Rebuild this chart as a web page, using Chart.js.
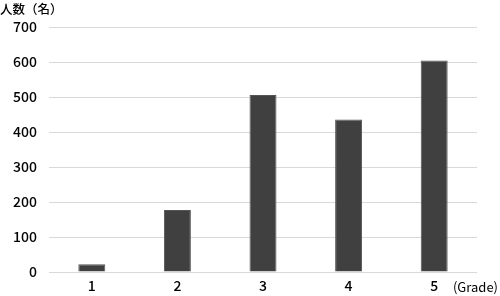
<!DOCTYPE html>
<html>
<head>
<meta charset="utf-8">
<script src="https://cdn.jsdelivr.net/npm/chart.js@4/dist/chart.umd.min.js"></script>
<style>
html,body{margin:0;padding:0;background:#fff;}
#wrap{width:500px;height:296px;position:relative;}
</style>
</head>
<body>
<div id="wrap"><canvas id="c" width="500" height="296"></canvas></div>
<script>
const categories = ["1", "2", "3", "4", "5"];
const counts = [22, 177, 506, 436, 604];
const yTicks = [0, 100, 200, 300, 400, 500, 600, 700];
const yTitle = "人数（名）";
const xTitle = "(Grade)";

const FONT = "'Noto Sans CJK JP', 'Noto Sans', sans-serif";

const textPlugin = {
  id: 'texts',
  afterDraw(chart) {
    const ctx = chart.ctx;
    ctx.save();
    ctx.fillStyle = '#000';
    ctx.font = "500 12.5px " + FONT;
    ctx.textAlign = 'left';
    ctx.textBaseline = 'middle';
    ctx.fillText(yTitle, 0, 9);
    ctx.font = "13px " + FONT;
    ctx.textAlign = 'right';
    ctx.fillText(xTitle, 498, 287);
    ctx.restore();
  }
};

new Chart(document.getElementById('c'), {
  type: 'bar',
  data: {
    labels: categories,
    datasets: [{
      data: counts,
      backgroundColor: '#404040',
      borderColor: '#555555',
      borderWidth: 1,
      barPercentage: 0.315,
      categoryPercentage: 1
    }]
  },
  options: {
    responsive: false,
    animation: false,
    devicePixelRatio: 1,
    layout: { padding: { top: 27, right: 23, left: 0, bottom: 0 } },
    plugins: { legend: { display: false }, tooltip: { enabled: false }, title: { display: false } },
    scales: {
      x: {
        grid: { display: false, drawTicks: false },
        border: { display: false },
        ticks: { color: '#000', font: { family: FONT, size: 14, weight: '500' }, padding: 5, maxRotation: 0 },
        afterFit(s) { s.height = 24; }
      },
      y: {
        min: 0, max: 700,
        afterBuildTicks(s) { s.ticks = yTicks.map(v => ({ value: v })); },
        grid: { color: '#d9d9d9', lineWidth: 1, drawTicks: false },
        border: { display: false },
        ticks: { color: '#000', font: { family: FONT, size: 14, weight: '500' }, padding: 12 },
        afterFit(s) { s.width = 49; }
      }
    }
  },
  plugins: [textPlugin]
});
</script>
</body>
</html>
